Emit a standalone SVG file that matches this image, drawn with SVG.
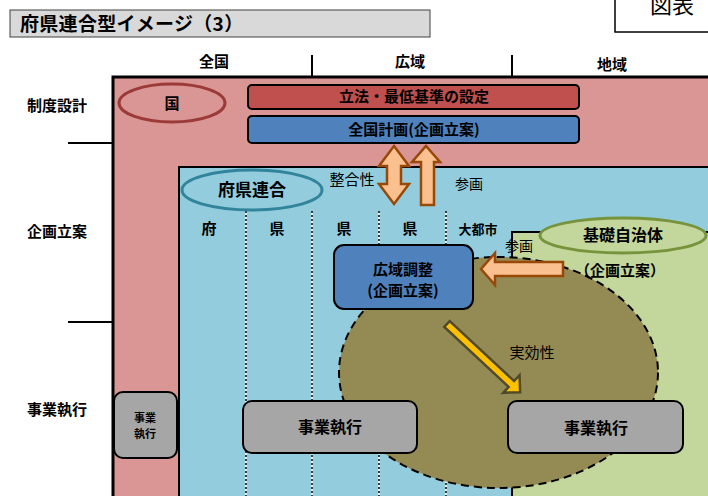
<svg xmlns="http://www.w3.org/2000/svg" width="708" height="496" viewBox="0 0 708 496">
<defs>
<style>
text{font-family:"Noto Sans CJK JP","Noto Sans",sans-serif;fill:#000;text-anchor:middle}
.b{font-weight:bold}
.hdr{font-size:15px;font-weight:bold}
.row{font-size:15px;font-weight:bold}
.col{font-size:15px;font-weight:bold}
.lbl{font-size:14px}
.box{stroke:#000;stroke-width:2}
.gray{fill:#a6a6a6;stroke:#000;stroke-width:2}
.oarr{fill:#fac090;stroke:#984807;stroke-width:2.5;stroke-linejoin:miter}
.dash1{stroke:#fff;stroke-width:1.5}
.dash2{stroke:#000;stroke-width:1.5;stroke-dasharray:2 2}
</style>
</defs>
<rect width="708" height="496" fill="#fff"/>

<g id="title">
<rect x="10" y="10" width="420" height="27" fill="#d9d9d9" stroke="#404040" stroke-width="1"/>
<text x="20" y="31" style="font-size:19px;font-weight:bold;text-anchor:start;letter-spacing:0.3px">府県連合型イメージ（3）</text>
</g>
<g id="figlabel">
<rect x="615" y="-10" width="100" height="42" fill="#fff" stroke="#000" stroke-width="1.5"/>
<text x="650" y="13" style="font-size:22px;text-anchor:start">図表</text>
</g>

<g id="headers">
<text class="hdr" x="214" y="67">全国</text>
<text class="hdr" x="410" y="67">広域</text>
<text class="hdr" x="612" y="70">地域</text>
<line x1="312" y1="55" x2="312" y2="77" stroke="#000" stroke-width="2"/>
<line x1="512" y1="55" x2="512" y2="77" stroke="#000" stroke-width="2"/>
</g>

<g id="rows">
<text class="row" x="57" y="111">制度設計</text>
<text class="row" x="57" y="237">企画立案</text>
<text class="row" x="57" y="415">事業執行</text>
<line x1="68" y1="143" x2="113" y2="143" stroke="#000" stroke-width="2"/>
<line x1="68" y1="322" x2="113" y2="322" stroke="#000" stroke-width="2"/>
</g>

<g id="kuni-area">
<rect x="113" y="77" width="610" height="430" fill="#d99694" stroke="#000" stroke-width="3"/>
</g>
<g id="kuni">
<ellipse cx="172" cy="103" rx="53" ry="19" fill="none" stroke="#9b3a38" stroke-width="3"/>
<text class="b" x="172" y="109" style="font-size:15px">国</text>
</g>
<g id="rippou">
<rect x="248" y="85" width="331" height="24" rx="4" fill="#c0504d" class="box"/>
<text class="b" x="414" y="102" style="font-size:15px">立法・最低基準の設定</text>
</g>
<g id="zenkoku-keikaku">
<rect x="248" y="116" width="331" height="27" rx="4" fill="#4f81bd" class="box"/>
<text class="b" x="414" y="135" style="font-size:15px">全国計画(企画立案)</text>
</g>

<g id="rengo-area">
<rect x="179" y="167" width="540" height="340" fill="#93cddd" stroke="#000" stroke-width="2"/>
<line class="dash1" x1="246" y1="211" x2="246" y2="496"/><line class="dash2" x1="246" y1="211" x2="246" y2="496"/>
<line class="dash1" x1="312" y1="211" x2="312" y2="496"/><line class="dash2" x1="312" y1="211" x2="312" y2="496"/>
<line class="dash1" x1="379" y1="211" x2="379" y2="496"/><line class="dash2" x1="379" y1="211" x2="379" y2="496"/>
<line class="dash1" x1="446" y1="211" x2="446" y2="496"/><line class="dash2" x1="446" y1="211" x2="446" y2="496"/>
<text class="col" x="209" y="234">府</text>
<text class="col" x="277" y="234">県</text>
<text class="col" x="344" y="234">県</text>
<text class="col" x="410" y="234">県</text>
<text class="col" x="478" y="234" style="font-size:13px">大都市</text>
</g>
<g id="rengo">
<ellipse cx="252" cy="190" rx="70" ry="20" fill="none" stroke="#31849b" stroke-width="3"/>
<text class="b" x="252" y="196" style="font-size:17px">府県連合</text>
</g>

<g id="kiso-area">
<rect x="512" y="232" width="210" height="280" fill="#c3d69b" stroke="#000" stroke-width="2"/>
</g>
<g id="jikkou-area">
<ellipse cx="498.5" cy="372.5" rx="159.5" ry="115.5" fill="#948a54" stroke="#000" stroke-width="2" stroke-dasharray="8 5"/>
</g>
<g id="kiso">
<ellipse cx="623" cy="235.5" rx="83" ry="17.5" fill="#c3d69b" stroke="#77933c" stroke-width="3"/>
<text class="b" x="623" y="241" style="font-size:16px">基礎自治体</text>
<text class="b" x="620" y="276" style="font-size:15px">（企画立案）</text>
</g>

<g id="kouiki">
<rect x="334" y="245" width="139" height="64" rx="10" fill="#4f81bd" class="box"/>
<text class="b" x="403" y="275" style="font-size:15px">広域調整</text>
<text class="b" x="403" y="296" style="font-size:15px">(企画立案)</text>
</g>

<g id="jigyo-kuni">
<rect x="114" y="392" width="63" height="66" rx="9" class="gray"/>
<text class="b" x="145" y="422" style="font-size:11px">事業</text>
<text class="b" x="145" y="438" style="font-size:11px">執行</text>
</g>
<g id="jigyo-rengo">
<rect x="243" y="401" width="174" height="52" rx="9" class="gray"/>
<text class="b" x="330" y="433" style="font-size:16px">事業執行</text>
</g>
<g id="jigyo-kiso">
<rect x="508" y="401" width="175" height="52" rx="9" class="gray"/>
<text class="b" x="596" y="434" style="font-size:16px">事業執行</text>
</g>

<g id="connectors">
<polygon class="oarr" points="394,146 409,166 401,166 401,184 409,184 394,204 379,184 387,184 387,166 379,166"/>
<polygon class="oarr" points="426,146 440,162 434,162 434,205 421,205 421,162 412,162"/>
<polygon class="oarr" points="481,269 495,253 495,262 563,262 563,276 495,276 495,285"/>
<polygon transform="translate(447,324) rotate(43)" points="0,-4 88,-4 88,-12 100,0 88,12 88,4 0,4" fill="#ffc000" stroke="#4f4a2a" stroke-width="2.5"/>
</g>

<g id="labels">
<text class="lbl" x="352" y="185" style="font-size:15px">整合性</text>
<text class="lbl" x="469" y="189">参画</text>
<text class="lbl" x="519" y="251">参画</text>
<text class="lbl" x="532" y="358" style="font-size:15px">実効性</text>
</g>
</svg>
